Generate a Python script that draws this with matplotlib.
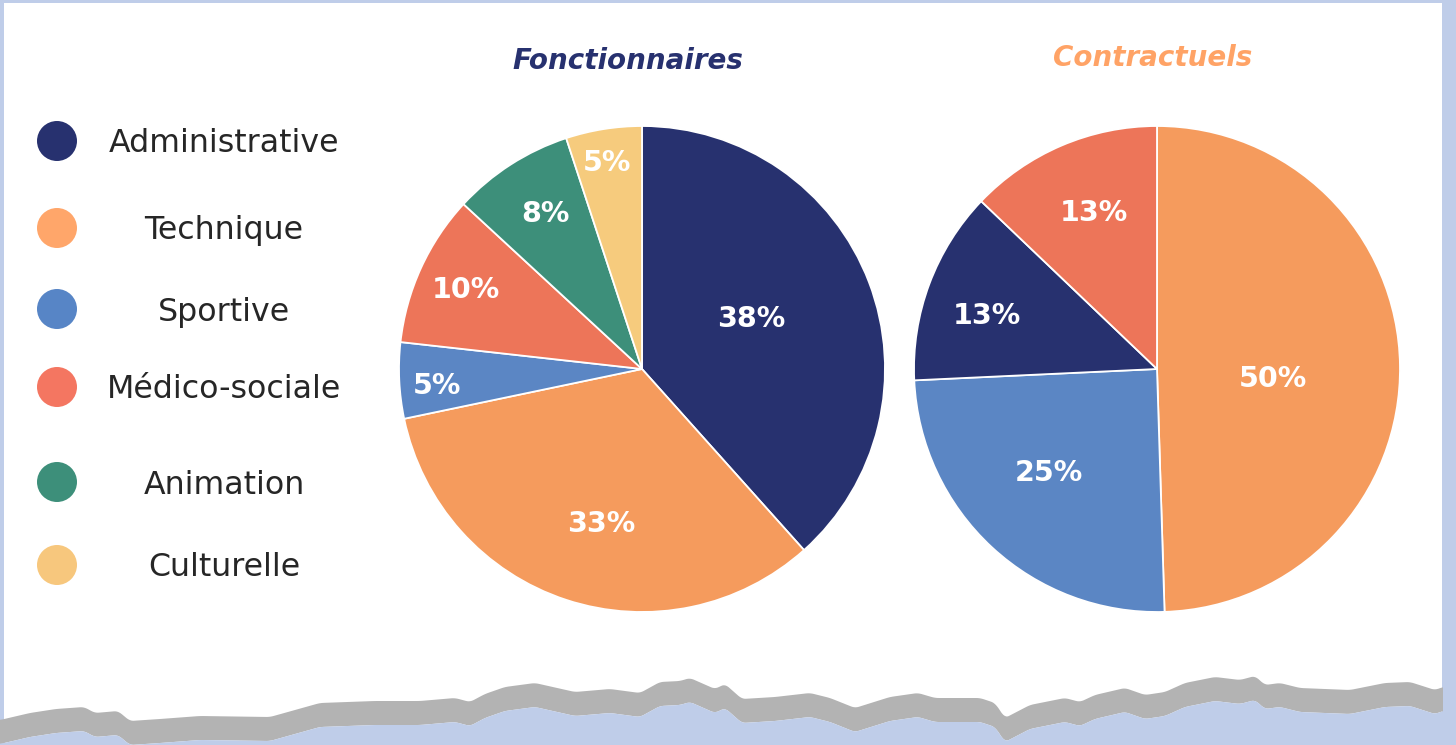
import numpy as np
import matplotlib
matplotlib.use("Agg")
import matplotlib.pyplot as plt
from matplotlib.patches import Circle, Rectangle, Polygon

# ---- data ----
categories = ["Administrative", "Technique", "Sportive", "Médico-sociale", "Animation", "Culturelle"]
colors = ["#27316F", "#F59B5D", "#5B86C4", "#ED7559", "#3D8F7A", "#F6CB7D"]
legend_colors = ["#27316F", "#FFA66A", "#5785C6", "#F47661", "#3D8F7A", "#F7C77D"]

fonct_labels = ["Administrative", "Technique", "Sportive", "Médico-sociale", "Animation", "Culturelle"]
fonct_values = [38, 33, 5, 10, 8, 5]

contr_labels = ["Technique", "Sportive", "Administrative", "Médico-sociale"]
contr_values = [50, 25, 13, 13]

titles = ["Fonctionnaires", "Contractuels"]
title_colors = ["#27316F", "#FFA366"]

# label placement (style): radial distance and angular nudge in degrees
fonct_label_dist = [0.50, 0.65, 0.845, 0.80, 0.76, 0.87]
fonct_label_rot = [4.8, 3.1, 1.2, -0.4, -1.2, 0.5]
contr_label_dist = [0.48, 0.61, 0.735, 0.70]
contr_label_rot = [-4.8, -3.8, 2.5, -1.5]

W, H = 1456, 745
fig = plt.figure(figsize=(W / 100, H / 100), dpi=100)
fig.patch.set_facecolor("white")

bg = fig.add_axes([0, 0, 1, 1])
bg.set_xlim(0, W)
bg.set_ylim(H, 0)
bg.axis("off")

border = "#BFCDE9"
bg.add_patch(Rectangle((0, 0), 4, H, color=border, lw=0))
bg.add_patch(Rectangle((0, 0), W, 3, color=border, lw=0))
bg.add_patch(Rectangle((1442, 0), W - 1442, H, color=border, lw=0))

# torn-paper decoration at the bottom
wx = [0, 30, 56, 84, 95, 118, 130, 160, 200, 270, 320, 375, 420, 455, 470, 485, 505, 535,
      575, 610, 640, 660, 680, 690, 715, 725, 742, 775, 810, 830, 855, 890, 918, 935, 980,
      995, 1005, 1030, 1065, 1080, 1095, 1125, 1145, 1165, 1185, 1215, 1240, 1255, 1265,
      1280, 1300, 1350, 1385, 1410, 1435, 1443]
wy = [720, 713, 709, 707, 713, 711, 721, 719, 716, 717, 703, 701, 701, 698, 702, 694, 687, 683,
      692, 689, 693, 682, 681, 678, 689, 684, 699, 697, 693, 698, 708, 697, 693, 698, 698,
      703, 718, 705, 698, 702, 695, 688, 695, 692, 683, 677, 680, 676, 685,
      683, 688, 690, 683, 682, 690, 687]
xs = np.linspace(0, 1443, 900)
ys = np.interp(xs, wx, wy)
k = np.ones(5) / 5
ys = np.convolve(np.pad(ys, 2, mode="edge"), k, mode="valid")
gray_top = ys
gray_bot = ys + 24
bg.add_patch(Polygon(np.column_stack([np.r_[xs, xs[::-1]], np.r_[gray_top, gray_bot[::-1]]]),
                     closed=True, color="#B3B3B3", lw=0))
bg.add_patch(Polygon(np.column_stack([np.r_[xs, xs[-1], xs[0]], np.r_[gray_bot, H, H]]),
                     closed=True, color=border, lw=0))

# legend
leg_y = [141, 228, 309, 387, 482, 565]
for c, lab, y in zip(legend_colors, categories, leg_y):
    bg.add_patch(Circle((57, y), 20, color=c, lw=0))
    bg.text(224, y + 11.5, lab, ha="center", va="baseline", fontsize=22.8, color="#262626",
            family="DejaVu Sans")

# titles
bg.text(628, 69, titles[0], ha="center", va="baseline", fontsize=20, color=title_colors[0],
        family="DejaVu Sans", fontweight="bold", fontstyle="oblique")
bg.text(1153, 66, titles[1], ha="center", va="baseline", fontsize=20, color=title_colors[1],
        family="DejaVu Sans", fontweight="bold", fontstyle="oblique")

color_map = dict(zip(categories, colors))


def draw_pie(cx, cy, r, labels, values, dists, rots):
    ax = fig.add_axes([(cx - r) / W, (H - cy - r) / H, 2 * r / W, 2 * r / H])
    wedges, _ = ax.pie(values, colors=[color_map[l] for l in labels], startangle=90,
                       counterclock=False, radius=1,
                       wedgeprops=dict(edgecolor="white", linewidth=1.3))
    ax.set_xlim(-1, 1)
    ax.set_ylim(-1, 1)
    ax.set_aspect("equal")
    ax.axis("off")
    for w, v, d, rot in zip(wedges, values, dists, rots):
        a = np.deg2rad((w.theta1 + w.theta2) / 2 + rot)
        ax.annotate(f"{v}%", (d * np.cos(a), d * np.sin(a)), xytext=(0, -10.5),
                    textcoords="offset pixels", ha="center", va="baseline", color="white",
                    fontsize=20.5, fontweight="bold", family="DejaVu Sans")


draw_pie(642, 369, 243, fonct_labels, fonct_values, fonct_label_dist, fonct_label_rot)
draw_pie(1157, 369, 243, contr_labels, contr_values, contr_label_dist, contr_label_rot)

fig.savefig("out.png", dpi=100, facecolor="white")
